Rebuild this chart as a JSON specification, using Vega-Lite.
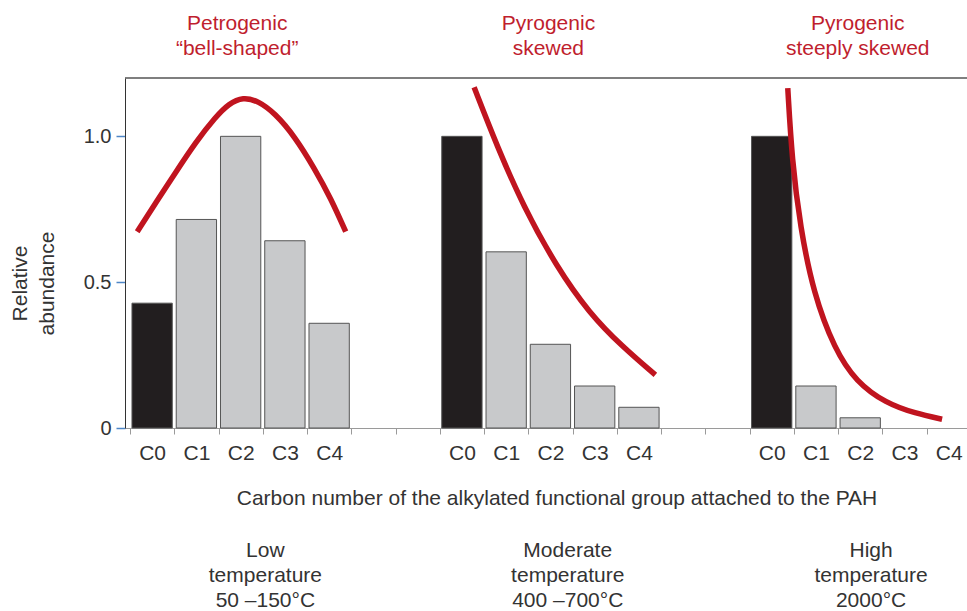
{
  "$schema": "https://vega.github.io/schema/vega-lite/v6.json",
  "width": 842,
  "height": 350,
  "autosize": {"type": "none"},
  "padding": {"left": 125, "top": 78, "right": 0, "bottom": 183},
  "background": "white",
  "config": {
    "view": {"stroke": null},
    "font": "Liberation Sans",
    "text": {"font": "Liberation Sans"}
  },
  "datasets": {
    "bars": [
      {"position": 0, "carbon": "C0", "profile": "Petrogenic", "kind": "parent", "abundance": 0.428},
      {"position": 1, "carbon": "C1", "profile": "Petrogenic", "kind": "alkyl", "abundance": 0.715},
      {"position": 2, "carbon": "C2", "profile": "Petrogenic", "kind": "alkyl", "abundance": 1.0},
      {"position": 3, "carbon": "C3", "profile": "Petrogenic", "kind": "alkyl", "abundance": 0.642},
      {"position": 4, "carbon": "C4", "profile": "Petrogenic", "kind": "alkyl", "abundance": 0.359},
      {"position": 7, "carbon": "C0", "profile": "Pyrogenic skewed", "kind": "parent", "abundance": 1.0},
      {"position": 8, "carbon": "C1", "profile": "Pyrogenic skewed", "kind": "alkyl", "abundance": 0.604},
      {"position": 9, "carbon": "C2", "profile": "Pyrogenic skewed", "kind": "alkyl", "abundance": 0.287},
      {"position": 10, "carbon": "C3", "profile": "Pyrogenic skewed", "kind": "alkyl", "abundance": 0.144},
      {"position": 11, "carbon": "C4", "profile": "Pyrogenic skewed", "kind": "alkyl", "abundance": 0.071},
      {"position": 14, "carbon": "C0", "profile": "Pyrogenic steeply skewed", "kind": "parent", "abundance": 1.0},
      {"position": 15, "carbon": "C1", "profile": "Pyrogenic steeply skewed", "kind": "alkyl", "abundance": 0.144},
      {"position": 16, "carbon": "C2", "profile": "Pyrogenic steeply skewed", "kind": "alkyl", "abundance": 0.035}
    ],
    "curves": [
      {"profile": "Petrogenic", "x": -0.337, "abundance": 0.673},
      {"profile": "Petrogenic", "x": 0.096, "abundance": 0.776},
      {"profile": "Petrogenic", "x": 0.543, "abundance": 0.879},
      {"profile": "Petrogenic", "x": 0.989, "abundance": 0.981},
      {"profile": "Petrogenic", "x": 1.436, "abundance": 1.067},
      {"profile": "Petrogenic", "x": 1.733, "abundance": 1.112},
      {"profile": "Petrogenic", "x": 2.052, "abundance": 1.135},
      {"profile": "Petrogenic", "x": 2.402, "abundance": 1.121},
      {"profile": "Petrogenic", "x": 2.775, "abundance": 1.079},
      {"profile": "Petrogenic", "x": 3.221, "abundance": 1.0},
      {"profile": "Petrogenic", "x": 3.668, "abundance": 0.89},
      {"profile": "Petrogenic", "x": 4.039, "abundance": 0.787},
      {"profile": "Petrogenic", "x": 4.374, "abundance": 0.673},
      {"profile": "Pyrogenic skewed", "x": 7.276, "abundance": 1.168},
      {"profile": "Pyrogenic skewed", "x": 7.799, "abundance": 0.964},
      {"profile": "Pyrogenic skewed", "x": 8.393, "abundance": 0.759},
      {"profile": "Pyrogenic skewed", "x": 9.138, "abundance": 0.553},
      {"profile": "Pyrogenic skewed", "x": 9.882, "abundance": 0.393},
      {"profile": "Pyrogenic skewed", "x": 10.625, "abundance": 0.279},
      {"profile": "Pyrogenic skewed", "x": 11.371, "abundance": 0.182},
      {"profile": "Pyrogenic steeply skewed", "x": 14.363, "abundance": 1.165},
      {"profile": "Pyrogenic steeply skewed", "x": 14.459, "abundance": 0.919},
      {"profile": "Pyrogenic steeply skewed", "x": 14.644, "abundance": 0.69},
      {"profile": "Pyrogenic steeply skewed", "x": 14.943, "abundance": 0.462},
      {"profile": "Pyrogenic steeply skewed", "x": 15.42, "abundance": 0.27},
      {"profile": "Pyrogenic steeply skewed", "x": 15.91, "abundance": 0.158},
      {"profile": "Pyrogenic steeply skewed", "x": 16.58, "abundance": 0.085},
      {"profile": "Pyrogenic steeply skewed", "x": 17.25, "abundance": 0.05},
      {"profile": "Pyrogenic steeply skewed", "x": 17.85, "abundance": 0.03}
    ],
    "profiles": [
      {"profile": "Petrogenic", "label_at": 1.922, "label": "Petrogenic\n“bell-shaped”", "temperature_at": 2.559, "temperature": "Low\ntemperature\n50 –150°C"},
      {"profile": "Pyrogenic skewed", "label_at": 8.955, "label": "Pyrogenic\nskewed", "temperature_at": 9.391, "temperature": "Moderate\ntemperature\n400 –700°C"},
      {"profile": "Pyrogenic steeply skewed", "label_at": 15.943, "label": "Pyrogenic\nsteeply skewed", "temperature_at": 16.245, "temperature": "High\ntemperature\n2000°C"}
    ]
  },
  "layer": [
    {
      "data": {"name": "bars"},
      "mark": {"type": "bar", "stroke": "#555555", "strokeWidth": 1, "width": 40.3},
      "encoding": {
        "x": {
          "field": "position",
          "type": "quantitative",
          "scale": {"domain": [-0.5, 18.3], "nice": false, "zero": false},
          "axis": {
            "orient": "bottom",
            "values": [-0.5, 0.5, 1.5, 2.5, 3.5, 4.5, 5.5, 6.5, 7.5, 8.5, 9.5, 10.5, 11.5, 12.5, 13.5, 14.5, 15.5, 16.5, 17.5],
            "labels": false,
            "grid": false,
            "tickColor": "#9a9a9a",
            "tickSize": 6,
            "domainColor": "#9a9a9a",
            "title": "Carbon number of the alkylated functional group attached to the PAH",
            "titleFontSize": 21,
            "titleFontWeight": "normal",
            "titleColor": "#333333",
            "titleX": 431.5,
            "titleY": 70,
            "titleBaseline": "middle"
          }
        },
        "y": {
          "field": "abundance",
          "type": "quantitative",
          "scale": {"domain": [0, 1.2], "nice": false, "zero": true},
          "axis": {
            "values": [0, 0.5, 1],
            "labelExpr": "datum.value === 0 ? '0' : format(datum.value, '.1f')",
            "labelFontSize": 20,
            "labelColor": "#333333",
            "labelPadding": 5,
            "tickSize": 9,
            "tickColor": "#4f87c7",
            "tickWidth": 1.5,
            "domainColor": "#333333",
            "grid": false,
            "title": ["Relative", "abundance"],
            "titleFontSize": 21,
            "titleFontWeight": "normal",
            "titleColor": "#333333",
            "titleLineHeight": 27,
            "titlePadding": 26,
            "titleY": 205
          }
        },
        "color": {
          "field": "kind",
          "type": "nominal",
          "scale": {"domain": ["parent", "alkyl"], "range": ["#221e1f", "#c8c9cb"]},
          "legend": null
        }
      }
    },
    {
      "data": {"name": "curves"},
      "mark": {"type": "line", "color": "#c0141f", "strokeWidth": 5.5, "interpolate": "basis"},
      "encoding": {
        "x": {
          "field": "x",
          "type": "quantitative",
          "axis": {
            "orient": "bottom",
            "values": [0, 1, 2, 3, 4, 7, 8, 9, 10, 11, 14, 15, 16, 17, 18],
            "labelExpr": "'C' + (datum.value % 7)",
            "ticks": false,
            "domain": false,
            "grid": false,
            "labelFontSize": 21,
            "labelColor": "#333333",
            "labelPadding": 14,
            "title": null
          }
        },
        "y": {"field": "abundance", "type": "quantitative"},
        "detail": {"field": "profile"}
      }
    },
    {
      "data": {"name": "profiles"},
      "mark": {"type": "text", "fontSize": 21, "lineBreak": "\n", "lineHeight": 25.5, "color": "#bf1e2e", "baseline": "middle", "align": "center"},
      "encoding": {
        "x": {"field": "label_at", "type": "quantitative", "axis": null},
        "text": {"field": "label"},
        "y": {"datum": 1.3867}
      }
    },
    {
      "data": {"name": "profiles"},
      "mark": {"type": "text", "fontSize": 21, "lineBreak": "\n", "lineHeight": 25, "color": "#333333", "baseline": "middle", "align": "center"},
      "encoding": {
        "x": {"field": "temperature_at", "type": "quantitative", "axis": null},
        "text": {"field": "temperature"},
        "y": {"datum": -0.4217}
      }
    },
    {
      "data": {"values": [{}]},
      "mark": {"type": "rule", "color": "#555555", "strokeWidth": 1.5},
      "encoding": {"y": {"datum": 1.2}}
    }
  ],
  "resolve": {"axis": {"x": "independent"}}
}
